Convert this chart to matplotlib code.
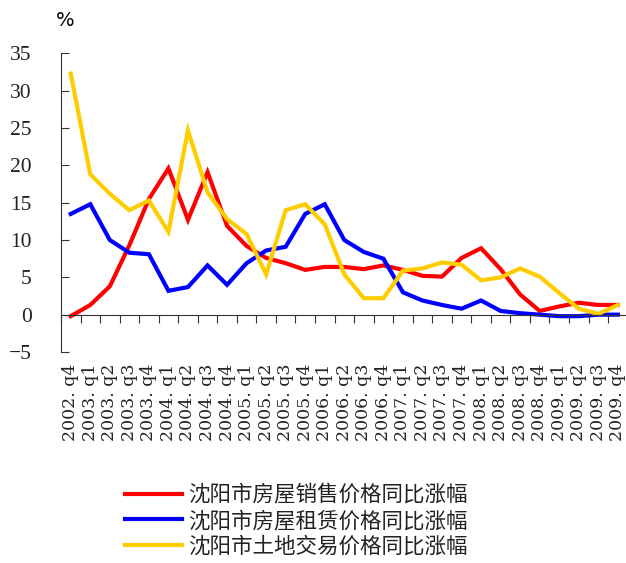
import numpy as np
import matplotlib
matplotlib.use("Agg")
import matplotlib.pyplot as plt

plt.rcParams['font.family'] = ['Noto Sans CJK SC', 'DejaVu Sans']

quarters = ["2002. q4",
            "2003. q1", "2003. q2", "2003. q3", "2003. q4",
            "2004. q1", "2004. q2", "2004. q3", "2004. q4",
            "2005. q1", "2005. q2", "2005. q3", "2005. q4",
            "2006. q1", "2006. q2", "2006. q3", "2006. q4",
            "2007. q1", "2007. q2", "2007. q3", "2007. q4",
            "2008. q1", "2008. q2", "2008. q3", "2008. q4",
            "2009. q1", "2009. q2", "2009. q3", "2009. q4"]

# 沈阳市房屋销售价格同比涨幅
sales = [-0.2, 1.3, 3.8, 9.3, 15.5, 19.6, 12.7, 19.1, 11.9, 9.2,
         7.6, 6.9, 6.0, 6.4, 6.4, 6.1, 6.6, 6.0, 5.2, 5.1,
         7.6, 8.9, 6.1, 2.7, 0.5, 1.1, 1.6, 1.3, 1.3]
# 沈阳市房屋租赁价格同比涨幅
rent = [13.5, 14.8, 10.0, 8.3, 8.1, 3.2, 3.7, 6.6, 4.0, 6.9,
        8.6, 9.1, 13.5, 14.8, 10.0, 8.4, 7.5, 3.0, 1.9, 1.3,
        0.8, 1.9, 0.5, 0.2, 0.0, -0.2, -0.2, 0.0, 0.0]
# 沈阳市土地交易价格同比涨幅
land = [32.3, 18.8, 16.2, 14.0, 15.3, 11.1, 24.7, 16.4, 12.8, 10.8,
        5.4, 14.0, 14.8, 12.1, 5.4, 2.2, 2.2, 5.9, 6.2, 7.0,
        6.7, 4.6, 5.0, 6.2, 5.1, 2.9, 0.8, 0.1, 1.3]

labels = ["沈阳市房屋销售价格同比涨幅",
          "沈阳市房屋租赁价格同比涨幅",
          "沈阳市土地交易价格同比涨幅"]
colors = ["#FF0000", "#0000FF", "#FFCC00"]

fig = plt.figure(figsize=(6.26, 5.63), dpi=100)
ax = fig.add_axes([0.0974, 0.3748, 0.9052, 0.5302])

x = np.arange(len(quarters))
handles = []
for series, color, label in zip([sales, rent, land], colors, labels):
    h, = ax.plot(x, series, color=color, lw=3.0, label=label,
                 solid_joinstyle='miter')
    handles.append(h)

ax.set_xlim(-0.5, len(quarters) - 0.5)
ax.set_ylim(-5, 35)

for side in ["top", "right"]:
    ax.spines[side].set_visible(False)
ax.spines["bottom"].set_position(("data", 0))
ax.spines["left"].set_color("#333333")
ax.spines["bottom"].set_color("#333333")

ax.set_yticks(np.arange(-5, 36, 5))
ax.tick_params(axis="y", direction="in", length=6, pad=21, color="#333333")
for t in ax.get_yticklabels():
    t.set_fontfamily("Liberation Serif")
    t.set_fontsize(15.5)
    t.set_color("#222222")

# ticks between categories, labels under each category
ax.set_xticks(np.arange(-0.5, len(quarters), 1.0))
ax.set_xticklabels([])
ax.tick_params(axis="x", which="major", direction="out", length=6,
               color="#333333")
ax.set_xticks(x, minor=True)
ax.set_xticklabels(quarters, minor=True, rotation=90,
                   fontfamily="DejaVu Serif", fontsize=12.5, color="#222222")
ax.tick_params(axis="x", which="minor", length=0, pad=35)

fig.text(65 / 626, 1 - 21 / 563, "%", fontsize=14, ha="center", va="center",
         family="DejaVu Sans")

fig.legend(handles=handles, labels=labels, loc="center left",
           bbox_to_anchor=(125 / 626, 1 - 521 / 563), frameon=False,
           fontsize=15.5, handlelength=2.65, handletextpad=0.3,
           labelspacing=0.15, borderpad=0, borderaxespad=0,
           labelcolor="#222222")

fig.savefig("out.png", dpi=100)
